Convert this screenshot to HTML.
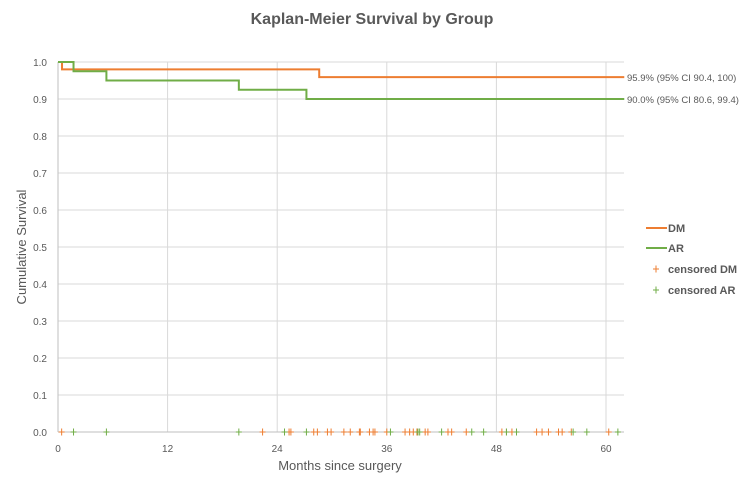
<!DOCTYPE html>
<html><head><meta charset="utf-8"><style>
body{margin:0;background:#fff;font-family:"Liberation Sans",sans-serif}
svg text{font-family:"Liberation Sans",sans-serif;fill:#595959}
</style></head><body>
<svg id="c" width="746" height="487" xmlns="http://www.w3.org/2000/svg"></svg>
<script>
const xTicks=[0,12,24,36,48,60];
const yTicks=[0,0.1,0.2,0.3,0.4,0.5,0.6,0.7,0.8,0.9,1.0];
const dmTimes=[0,0.44,28.6,62];
const dmSurv=[1.0,0.98,0.959,0.959];
const arTimes=[0,1.7,5.3,19.8,27.2,62];
const arSurv=[1.0,0.975,0.95,0.925,0.90,0.90];
const censDM=[0.4,22.4,25.3,25.5,28.0,28.4,29.5,29.9,31.3,32.0,33.0,33.1,34.1,34.5,34.7,36.0,38.0,38.5,38.9,39.3,39.4,40.2,40.5,42.7,43.1,44.7,48.6,49.1,49.7,50.2,52.4,53.0,53.7,54.8,55.2,56.2,60.3];
const censAR=[1.7,5.3,19.8,24.8,27.2,36.4,39.4,39.6,42.0,45.3,46.6,49.1,50.2,56.4,57.9,61.3];
const DMC="#ED7D31",ARC="#70AD47";
const svg=document.getElementById('c');const NS="http://www.w3.org/2000/svg";
const X=v=>58+v*(548/60), Y=v=>432-v*370;
function mk(t,a,p){const e=document.createElementNS(NS,t);for(const k in a)e.setAttribute(k,a[k]);(p||svg).appendChild(e);return e;}
function tx(x,y,s,a){const e=mk('text',Object.assign({x:x,y:y},a));e.textContent=s;return e;}
yTicks.forEach(v=>{const l=mk('line',{x1:58,x2:624,y1:Y(v),y2:Y(v),stroke:'#d9d9d9'});


const t=tx(47,Y(v)+4,v.toFixed(1),{'font-size':10,'text-anchor':'end'});

});
xTicks.forEach(v=>{const l=mk('line',{x1:X(v),x2:X(v),y1:Y(1),y2:Y(0),stroke:'#d9d9d9'});


const t=tx(X(v),452,String(v),{'font-size':10,'text-anchor':'middle'});

});
const ya=mk('line',{x1:58,x2:58,y1:Y(1),y2:Y(0),stroke:'#bfbfbf'});


const xa=mk('line',{x1:58,x2:624,y1:Y(0),y2:Y(0),stroke:'#bfbfbf'});


function step(ts,ss){let d='M'+X(ts[0])+' '+Y(ss[0]);for(let i=1;i<ts.length;i++){d+=' H'+X(ts[i])+' V'+Y(ss[i]);}return d;}
const pd=mk('path',{d:step(dmTimes,dmSurv),fill:'none',stroke:DMC,'stroke-width':2});


const pa=mk('path',{d:step(arTimes,arSurv),fill:'none',stroke:ARC,'stroke-width':2});


function plus(x,y,c){return mk('path',{d:`M${x-3} ${y}H${x+3}M${x} ${y-3.5}V${y+3.5}`,stroke:c,'stroke-width':1});}
censDM.forEach(t=>{const p=plus(X(t),Y(0),DMC);

});
censAR.forEach(t=>{const p=plus(X(t),Y(0),ARC);

});
const l1=tx(627,Y(dmSurv[dmSurv.length-1])+4,'95.9% (95% CI 90.4, 100)',{'font-size':9.5,fill:'#404040'});


const l2=tx(627,Y(arSurv[arSurv.length-1])+4,'90.0% (95% CI 80.6, 99.4)',{'font-size':9.5,fill:'#404040'});


const ti=tx(372,24,'Kaplan-Meier Survival by Group',{'font-size':16,'font-weight':'bold','text-anchor':'middle'});


const xt=tx(340,470,'Months since surgery',{'font-size':13,'text-anchor':'middle'});


const yt=tx(0,0,'Cumulative Survival',{'font-size':13,'text-anchor':'middle',transform:'translate(26,247) rotate(-90)'});


const leg=[['DM',DMC,'line',228],['AR',ARC,'line',248],['censored DM',DMC,'plus',269],['censored AR',ARC,'plus',290]];
leg.forEach(e=>{const g=mk('g',{});


if(e[2]=='line')mk('line',{x1:646,x2:667,y1:e[3],y2:e[3],stroke:e[1],'stroke-width':2},g);
else g.appendChild(plus(656,e[3],e[1]));
const t=mk('text',{x:668,y:e[3]+4,'font-size':11,'font-weight':'bold'},g);t.textContent=e[0];});
</script>
</body></html>
